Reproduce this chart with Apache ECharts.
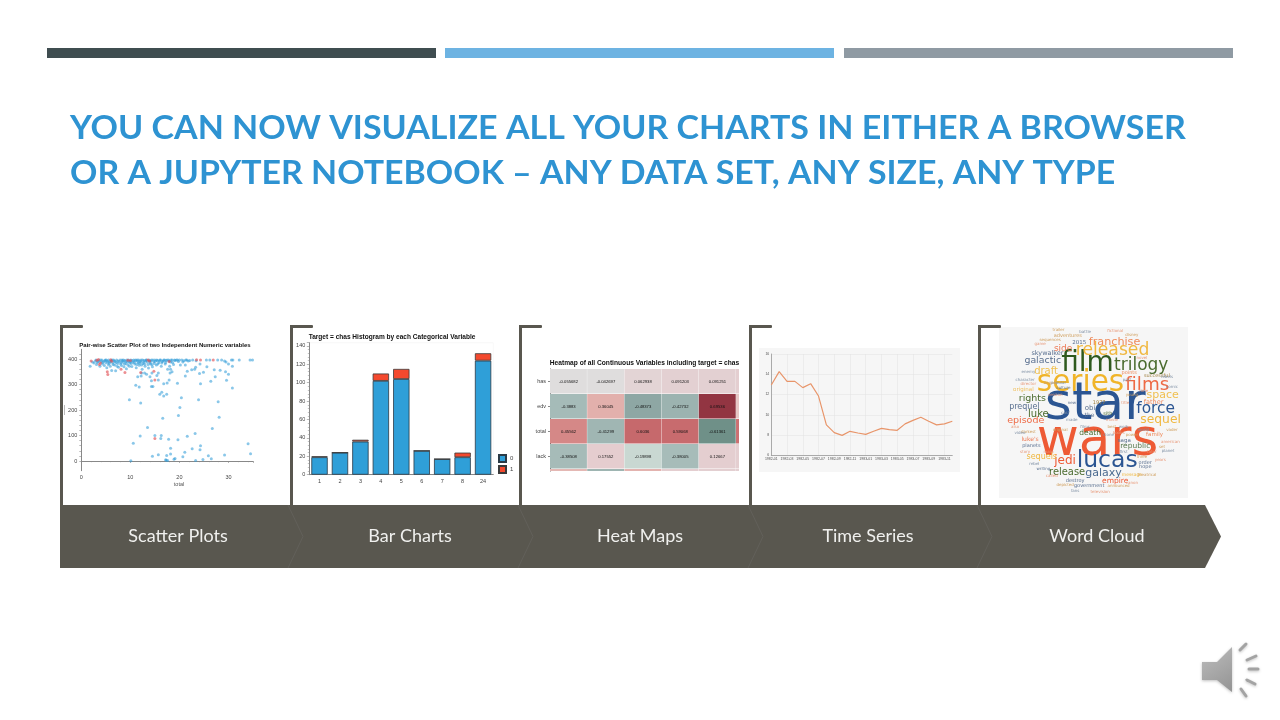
<!DOCTYPE html>
<html><head><meta charset="utf-8">
<style>html,body{margin:0;padding:0;background:#fff}#c{width:1280px;height:720px}</style>
<script src="https://cdn.jsdelivr.net/npm/echarts@6/dist/echarts.min.js"></script>
</head><body><div id="c"></div>
<script>
const titleLines = ['YOU CAN NOW VISUALIZE ALL YOUR CHARTS IN EITHER A BROWSER','OR A JUPYTER NOTEBOOK – ANY DATA SET, ANY SIZE, ANY TYPE'];
const panelNames = ['Scatter Plots','Bar Charts','Heat Maps','Time Series','Word Cloud'];

// scatter: [total, y]
const scatter0 = [[10.1,1],[10.6,70],[9.8,240],[12.1,227],[11.1,297],[11.8,290],[12,98],[13.5,131],[14.5,19],[15,100],[15.7,25],[16.3,100],[16.2,88],[16.6,168],[17.2,5],[17.3,3],[17.6,2],[17.4,22],[17.8,85],[18.2,27],[18.2,50],[18.9,7],[19.1,10],[19.7,83],[19.8,178],[20.1,210],[20.4,248],[20.7,17],[21.1,34],[21.6,97],[22.6,48],[23.2,108],[23.3,2],[23.9,240],[24.2,44],[24.3,60],[24.8,6],[25.9,21],[26.5,9],[26.7,127],[27.9,232],[28.1,172],[29.2,24],[34,68],[34.5,28],
[11.5,330],[12.2,333],[12.3,345],[12.9,345],[13.3,340],[14,330],[14.3,315],[14.6,292],[14.3,292],[14.4,345],[15.4,335],[15.7,318],[15.7,345],[16,262],[16.4,270],[16.8,255],[17.4,262],[16.8,303],[17.5,306],[17.9,318],[18.1,345],[18.5,350],[18.2,360],[19.6,305],[21.2,333],[21.6,352],[22.5,358],[23.1,360],[23.3,368],[24.1,343],[24.3,303],[24.9,348],[25.6,370],[26.4,313],[27.1,358],[27.3,330],[28.3,356],[29.4,350],[29.6,317],[30,340],[30.8,286],[30.8,372],[29.5,388],[30,380],[29.2,392],
[1.8,372],[2.3,388],[2.6,384],[2.9,392],[3.1,378],[3.3,386],[3.6,394],[3.8,372],[4,389],[4.2,396],[4.3,380],[4.5,391],[4.7,374],[4.9,396],[5,385],[5.2,366],[5.3,392],[5.5,378],[5.6,396],[5.8,388],[5.9,372],[6.1,394],[6.2,355],[6.4,384],[6.6,396],[6.8,376],[6.9,390],[7,354],[7.2,396],[7.4,382],[7.5,392],[7.6,368],[7.9,396],[8.1,386],[8.2,374],[8.4,393],[8.6,396],[8.8,380],[9,390],[9.2,362],[9.3,396],[9.5,376],[9.7,391],[9.9,384],[10.1,396],[10.3,371],[10.5,388],[10.7,396],[10.9,380],[11,393],[11.2,366],[11.4,396],[11.6,385],[11.8,375],[12,392],[12.2,396],[12.4,360],[12.6,382],[12.8,394],[13,372],[13.2,396],[13.4,388],[13.7,365],[13.9,392],[14.1,380],[14.3,396],[14.5,370],[14.8,389],[15,396],[15.3,376],[15.5,394],[15.8,385],[16,396],[16.3,372],[16.5,390],[16.8,396],[17.1,380],[17.3,394],[17.6,360],[17.8,396],[18,372],[18.2,388],[18.5,396],[18.8,378],[19.1,394],[19.4,396],[19.8,390],[20.2,376],[20.5,396],[20.9,393],[21.2,376],[21.5,396],[22.1,394],[22.7,396],[23.4,393],[24.2,380],[25.5,396],[26.2,396],[27.8,396],[28.6,396],[30.6,396],[30.9,396],[32.2,396],[34.4,396],[34.9,396],
[3,396],[3.4,390],[3.9,396],[4.4,386],[4.8,393],[5.1,396],[5.4,388],[5.7,382],[6,390],[6.3,396],[6.5,378],[6.7,392],[7.1,386],[7.3,372],[7.7,390],[8,380],[8.3,396],[8.5,387],[8.7,370],[8.9,394],[9.1,382],[9.4,388],[9.6,396],[9.8,372],[10,390],[10.2,382],[10.4,394],[10.8,386],[11.1,396],[11.3,378],[11.5,391],[11.7,396],[11.9,383],[12.1,388],[12.3,376],[12.5,396],[12.7,388],[12.9,380],[13.1,392],[13.3,396],[13.6,378],[13.8,396],[14,386],[14.2,392],[14.4,378],[14.6,396],[14.9,382],[15.1,391],[15.4,396],[15.6,380],[15.9,392],[16.2,396],[16.4,384],[16.7,392],[17,396],[17.2,386],[17.5,396],[17.9,392],[18.3,396],[18.6,386],[19,396],[19.6,396],[20,396],[20.7,388],[21.3,396],[21.8,392]];
const scatter1 = [[5.3,350],[5.4,339],[8.1,360],[8.9,347],[12.1,347],[14.8,352],[15,318],[15,88],[2,392],[3.2,395],[3.5,398],[3.9,384],[6,397],[6.2,391],[9.5,395],[10,394],[13.6,396],[13.9,392],[17.9,390],[23.5,397],[24.3,396],[26.9,396],[3.7,378]];
const scatterYLabels = [0,100,200,300,400];
const scatterYTicks = [0,20,40,60,80,100,120,140,160,180,200,220,240,260,280,300,320,340,360,380,400,420];

// bars
const barCats = ['1','2','3','4','5','6','7','8','24'];
const bar0 = [19,24,36,102,104,26,17,19,124];
const bar1 = [1,0,2,8,11,0,0,5,8];

// heat map
const heatRowNames = ['has','edv','total','lack'];
const heatValues = [
 [-0.055682,-0.042697,0.062938,0.091203,0.091251,0.13],
 [-0.3883,0.36045,-0.48373,-0.42732,0.69536,0.25],
 [0.45562,-0.41299,0.6036,0.59068,-0.61361,0.5],
 [-0.38508,0.17552,-0.19898,-0.38005,0.12667,0.15],
 [0.33,-0.42,0.35,0.15,0.1,0.1]];

// time series
const timeLabels = ['1982-01','1982-02','1982-03','1982-04','1982-05','1982-06','1982-07','1982-08','1982-09','1982-10','1982-11','1982-12','1983-01','1983-02','1983-03','1983-04','1983-05','1983-06','1983-07','1983-08','1983-09','1983-10','1983-11','1983-12'];
const timeValues = [12.94,14.26,13.3,13.3,12.68,13.07,11.85,9.0,8.24,7.97,8.37,8.2,8.07,8.37,8.66,8.53,8.47,9.1,9.45,9.75,9.36,9.0,9.1,9.36];

// word cloud
const cloudWords = ['star','wars','series','film','trilogy','released','films','force','lucas','jedi','sequel','franchise','galactic','draft','side','skywalker','2015','successful','space','rights','prequel','luke','episode','original','father','obi','1977','the','sith','death','saga','family','republic',"luke's",'planets','sequels','release','galaxy','empire','destroy','government','order','hope','message','adventures','points','character','director','trailer','battle','fictional','disney','novel','comic','vader','american','planet','years','darkest','story','rebel','writing','called','depicted','fans','television','announced','canon','theatrical','enemy','game','sequences','popular','culture','best','books','clone','time','new','films','movie','work','power','world','set','later','first','three','part','young','title','rebels','also','video','began','version','cast','original','made','main'];
const cloudWeights = [52,51.5,29.5,28,17,17.2,18.3,15.4,23.5,12,12.3,11.2,9.4,10,9,6.5,5.5,5,11,9.5,8,10,9.5,5.5,6.5,7,5,6,5,7.5,5.5,5.5,7.5,6,5,8,9.9,11,7.5,5,5,5,5,4.5,5,5,4,4,4,4,4,4,4,4,4,4,4,4,4,4,4,4,4,4,4,4,4,4,4,4,4,4,4,4,4,4,4,4,4,4,4,4,4,4,4,4,4,4,4,4,4,4,4,4,4,4,4,4,4,4];

const blue='#2b5592',red='#ee5a35',gold='#f0b840',dgreen='#2f5a1e',green='#4a6b2e',slate='#5a7090',orange='#ee8a5a',pale='#d0a060',pale2='#7f90a5',pale3='#e89878';
const cloudLayout = [[360,255,blue],[367,365,red],[316,190,'#f0b429'],[337,132,dgreen],[498,137,green],[412,90,gold],[516,194,'#ee6a45'],[541,268,blue],[396,422,blue],[270,422,red],[556,298,gold],[418,65,orange],[203,121,slate],[213,153,'#f0c050'],[264,84,'#ee7a55'],[217,99,slate],[312,67,slate],[545,167,'#a08040'],[562,225,'#f0c050'],[172,236,green],[148,260,slate],[190,282,green],[152,303,'#ee6a45'],[145,207,'#f0c060'],[535,247,'#ee8a60'],[345,265,slate],[372,247,'#a08040'],[343,286,slate],[398,282,green],[345,338,green],[447,361,slate],[538,345,orange],[480,378,'#5a7a50'],[165,358,'#ee7a55'],[169,378,slate],[200,412,gold],[276,459,green],[385,460,'#4a6a90'],[420,484,red],[300,482,slate],[342,497,slate],[510,430,slate],[510,441,slate],[470,465,gold],[278,47,pale],[462,158,orange],[150,178,pale2],[160,192,pale3],[250,30,pale],[330,35,pale2],[420,32,pale3],[470,45,pale],[500,112,pale3],[590,200,pale2],[590,330,pale],[585,365,pale3],[578,392,pale2],[555,420,pale3],[160,335,pale],[150,395,pale3],[178,432,pale2],[205,448,slate],[230,470,pale3],[270,497,pale],[300,513,pale2],[375,516,pale3],[430,500,pale],[470,490,pale3],[515,465,pale],[160,155,pale2],[195,72,pale3],[225,60,pale],[250,190,pale2],[265,205,slate],[410,320,pale],[430,340,pale3],[400,345,pale2],[505,212,pale3],[290,250,slate],[330,320,pale2],[410,300,pale3],[445,320,pale2],[470,345,pale],[505,330,pale2],[560,380,pale],[530,395,pale3],[445,395,pale2],[500,410,pale],[455,180,pale2],[470,225,pale],[450,250,pale3],[575,170,pale2],[120,320,pale3],[135,340,pale2],[225,190,pale],[240,225,pale3],[270,280,pale2],[255,330,pale],[290,300,pale2],[220,395,pale3]];

const c = echarts.init(document.getElementById('c'),null,{renderer:'canvas'});

const axisCol='#888', tickFont={fontSize:5.5,color:'#444',fontFamily:'Liberation Sans',margin:4};
const panelFill='#59574f';
const bracketX=[60,290,519,749,978];
const arrowShape=[[60,505],[1205,505],[1221,536.5],[1205,568],[60,568]];
const sepX=[288,518,748,977];
const labelX=[178,410,640,868,1097];
const graphics=[];
function rect(x,y,w,h,fill,z,r){graphics.push({type:'rect',shape:{x,y,width:w,height:h,r:r||0},style:{fill},z:z||1,silent:true});}
rect(47,48,389,10,'#3f4d50');rect(445,48,389,10,'#6db3e2');rect(844,48,389,10,'#8f9aa3');
const titleY=[128,173],titleScale=[1.03,1.027];
titleLines.forEach((t,i)=>graphics.push({type:'text',x:70,y:titleY[i],scaleX:titleScale[i],style:{text:t,font:'700 33px Lato',fill:'#2e93d2',verticalAlign:'middle'},z:1,silent:true}));
bracketX.forEach(x=>{rect(x,325,3,180,panelFill);rect(x,325,23,3,panelFill,1,1);});
rect(759,348,201,124,'#f6f6f6',-5);
graphics.push({type:'polygon',shape:{points:arrowShape},style:{fill:panelFill},z:1,silent:true});
sepX.forEach(x=>graphics.push({type:'polyline',shape:{points:[[x,505],[x+15,536.5],[x,568]]},style:{stroke:'#62605a',lineWidth:1,fill:null},z:2,silent:true}));
panelNames.forEach((t,i)=>graphics.push({type:'text',x:labelX[i],y:536,style:{text:t,font:'400 18px Lato',fill:'#f0f0ee',align:'center',verticalAlign:'middle'},z:3,silent:true}));
// chart titles
[['Pair-wise Scatter Plot of two Independent Numeric variables',165,345,6.0],['Target = chas Histogram by each Categorical Variable',392,337,6.55],['Heatmap of all Continuous Variables including target = chas',644.5,363,6.65]].forEach(a=>graphics.push({type:'text',x:a[1],y:a[2],style:{text:a[0],font:'700 '+a[3]+'px "Liberation Sans"',fill:'#111',align:'center',verticalAlign:'middle'},z:3,silent:true}));
graphics.push({type:'text',x:179,y:484,style:{text:'total',font:'5.5px "Liberation Sans"',fill:'#555',align:'center',verticalAlign:'middle'},silent:true,z:3});
graphics.push({type:'rect',shape:{x:64,y:405,width:1,height:10},style:{fill:'#bbb'},silent:true,z:3});
// speaker icon
graphics.push({type:'polygon',shape:{points:[[1202,662],[1217,662],[1232,647],[1232,692],[1217,680],[1202,680]]},style:{fill:new echarts.graphic.LinearGradient(0,0,1,1,[{offset:0,color:'#bdbdbd'},{offset:1,color:'#939393'}]),shadowBlur:3,shadowColor:'rgba(0,0,0,.25)',shadowOffsetY:1},z:3,silent:true});
[[[1240,650],[1246,644]],[[1247,660],[1256,656]],[[1249,669],[1258,669]],[[1247,680],[1255,684]],[[1241,689],[1246,696]]].forEach(p=>graphics.push({type:'polyline',shape:{points:p},style:{stroke:'#a3a3a3',lineWidth:3,lineCap:'round',shadowBlur:3,shadowColor:'rgba(0,0,0,.25)',shadowOffsetY:1,fill:null},z:3,silent:true}));

const heatData=[];heatValues.forEach((r,ri)=>r.forEach((v,ci)=>heatData.push([ci,ri,v])));
const cloudData=cloudWords.map((w,i)=>[cloudLayout[i][0],cloudLayout[i][1],cloudWeights[i],w,cloudLayout[i][2]]);

const option={
 backgroundColor:'#fff',animation:false,graphic:{elements:graphics},
 legend:{show:true,orient:'vertical',left:498,top:454,icon:'rect',itemWidth:7,itemHeight:7,itemGap:2,padding:0,data:['0','1'],textStyle:{fontSize:6,color:'#444',fontFamily:'Liberation Sans',padding:[0,0,0,-1]},selectedMode:false},
 visualMap:{show:false,seriesIndex:[4],dimension:2,min:-0.6,max:0.7,
   inRange:{color:['#6f9088','#8aa4a0','#a3b9b6','#b6c8c4','#c9d8d2','#dcdede','#e2dcdc','#e3cfd1','#e5cccf','#e6c0bc','#e0a6a2','#cc7072','#c86b6e','#8f3240']}},
 grid:[
  {left:81.3,top:349.3,width:171.7,height:121.4},
  {left:309.3,top:342.7,width:184,height:132,show:true,backgroundColor:'#fff',borderColor:'#f0f0f0',borderWidth:.5},
  {left:550,top:369,width:189,height:102},
  {left:550,top:369,width:189,height:100},
  {left:771.3,top:354,width:181,height:101.3},
  {left:999,top:327,width:189,height:171,show:true,backgroundColor:'#f6f6f6',borderWidth:0}
 ],
 xAxis:[
  {gridIndex:0,type:'value',min:0,max:35,interval:10,splitLine:{show:false},axisLine:{lineStyle:{color:axisCol,width:1}},axisTick:{length:2,lineStyle:{color:axisCol,width:.6}},minorTick:{show:true,splitNumber:5,length:1.2,lineStyle:{color:axisCol,width:.5}},axisLabel:{...tickFont,showMaxLabel:false}},
  {gridIndex:1,type:'category',data:barCats,axisLine:{lineStyle:{color:axisCol,width:1}},axisTick:{alignWithLabel:true,length:2,lineStyle:{color:axisCol,width:.6}},axisLabel:tickFont},
  {gridIndex:2,type:'value',min:0,max:5.08,show:false},
  {gridIndex:3,type:'value',min:0,max:1,show:false},
  {gridIndex:4,type:'category',data:timeLabels,boundaryGap:false,axisLine:{lineStyle:{color:'#999',width:.8}},axisTick:{show:false},axisLabel:{fontSize:3.5,color:'#555',fontFamily:'Liberation Sans',interval:1,margin:2,hideOverlap:false},splitLine:{show:true,interval:1,lineStyle:{color:'#e2e2e2',width:.5}}},
  {gridIndex:5,type:'value',min:72,max:638,show:false}
 ],
 yAxis:[
  {gridIndex:0,type:'value',min:-38,max:438,splitLine:{show:false},axisLine:{show:true,lineStyle:{color:axisCol,width:1}},axisTick:{show:true,customValues:scatterYTicks,length:2,lineStyle:{color:axisCol,width:.6}},axisLabel:{...tickFont,customValues:scatterYLabels}},
  {gridIndex:1,type:'value',min:0,max:143.5,interval:20,splitLine:{show:false},axisLine:{show:true,lineStyle:{color:axisCol,width:1}},axisTick:{show:true,length:2.5,lineStyle:{color:axisCol,width:.6}},minorTick:{show:true,splitNumber:5,length:1.5,lineStyle:{color:axisCol,width:.5}},axisLabel:{...tickFont,showMaxLabel:false}},
  {gridIndex:2,type:'value',inverse:true,min:0,max:4.08,axisLine:{show:true,lineStyle:{color:'#555',width:1}},axisTick:{show:false},axisLabel:{show:false},splitLine:{show:false}},
  {gridIndex:3,type:'category',inverse:true,data:heatRowNames,axisLine:{show:false},axisTick:{show:true,alignWithLabel:true,length:2,lineStyle:{color:'#555',width:.7}},axisLabel:{fontSize:5.5,color:'#444',fontFamily:'Liberation Sans',margin:4}},
  {gridIndex:4,type:'value',min:6,max:16,interval:2,axisLine:{show:true,lineStyle:{color:'#999',width:.8}},axisTick:{show:false},axisLabel:{fontSize:3.5,color:'#555',fontFamily:'Liberation Sans',margin:2},splitLine:{show:true,lineStyle:{color:'#e2e2e2',width:.5}}},
  {gridIndex:5,type:'value',inverse:true,min:20,max:535,show:false}
 ],
 series:[
  {name:'s0',type:'scatter',xAxisIndex:0,yAxisIndex:0,data:scatter0,symbolSize:3,silent:true,itemStyle:{color:'rgba(46,155,215,.7)'}},
  {name:'s1',type:'scatter',xAxisIndex:0,yAxisIndex:0,data:scatter1,symbolSize:3,silent:true,itemStyle:{color:'rgba(226,80,85,.8)'}},
  {name:'0',type:'bar',xAxisIndex:1,yAxisIndex:1,stack:'a',data:bar0,barWidth:'80%',silent:true,itemStyle:{color:'#2f9fd8',borderColor:'#2b3a46',borderWidth:.8}},
  {name:'1',type:'bar',xAxisIndex:1,yAxisIndex:1,stack:'a',data:bar1,barWidth:'80%',silent:true,itemStyle:{color:'#f4492e',borderColor:'#3a3a3a',borderWidth:.8}},
  {name:'heat',type:'custom',xAxisIndex:2,yAxisIndex:2,data:heatData,clip:true,silent:true,encode:{x:0,y:1},
   renderItem(p,api){const col=api.value(0),row=api.value(1),v=api.value(2);
     const a=api.coord([col,row]),b=api.coord([col+1,row+1]);
     const ch=[{type:'rect',shape:{x:a[0],y:a[1],width:b[0]-a[0]-.3,height:b[1]-a[1]-.5},style:{fill:api.visual('color')}}];
     if(col<5&&row<4)ch.push({type:'text',x:(a[0]+b[0])/2,y:(a[1]+b[1])/2,style:{text:String(v),font:'4.2px "Liberation Sans"',fill:'#111',align:'center',verticalAlign:'middle'}});
     return {type:'group',children:ch};}},
  {name:'time',type:'line',xAxisIndex:4,yAxisIndex:4,data:timeValues,symbol:'none',silent:true,lineStyle:{color:'#e8956a',width:1.2}},
  {name:'cloud',type:'custom',xAxisIndex:5,yAxisIndex:5,data:cloudData,silent:true,encode:{x:0,y:1},
   renderItem(p,api){const pt=api.coord([api.value(0),api.value(1)]);const d=cloudData[p.dataIndex];
     return {type:'text',x:pt[0],y:pt[1],style:{text:d[3],font:d[2]+'px "DejaVu Sans"',fill:d[4],align:'center',verticalAlign:'middle'}};}}
 ]
};
c.setOption(option);
</script></body></html>
